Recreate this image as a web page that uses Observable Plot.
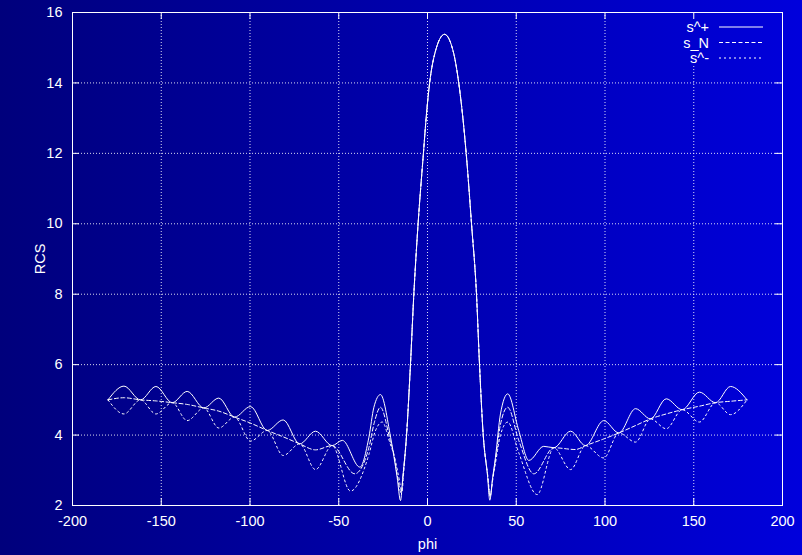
<!DOCTYPE html>
<html>
<head>
<meta charset="utf-8">
<script src="https://cdn.jsdelivr.net/npm/d3@7"></script>
<script src="https://cdn.jsdelivr.net/npm/@observablehq/plot@0.6"></script>
<style>
  html, body { margin: 0; padding: 0; background: #0000a8; }
  #chart svg { display: block; }
</style>
</head>
<body>
<div id="chart"></div>
<script>
// Axis ticks
const xTicks = [-200, -150, -100, -50, 0, 50, 100, 150, 200];
const yTicks = [2, 4, 6, 8, 10, 12, 14, 16];

// Key entries
const seriesNames = ["s^+", "s_N", "s^-"];

// Main lobe, shared by the three polarisations: [phi, RCS]
const mainLobe = [
  [-11.8, 4.0], [-9.6, 6.0], [-7.7, 8.0], [-5.3, 10.0], [-2.3, 12.0], [-0.6, 13.1],
  [1.2, 14.0], [4.1, 14.83], [9.6, 15.38], [14.8, 14.83], [17.6, 14.0], [21.8, 12.0],
  [24.8, 10.0], [27.6, 8.0], [29.3, 6.0], [31.4, 4.0]
];

// s^+ : [phi, RCS]
const sPlusLeft = [
  [-180, 5.00], [-171, 5.39], [-161.7, 5.00], [-153, 5.38], [-143.8, 4.92], [-135.4, 5.24],
  [-126, 4.77], [-117.6, 5.05], [-108.7, 4.51], [-99.7, 4.81], [-90.3, 4.13], [-81.3, 4.43],
  [-72, 3.75], [-63.1, 4.11], [-53.7, 3.70], [-48, 3.85], [-38.1, 3.09], [-33, 3.94],
  [-30.2, 4.79], [-26.5, 5.15], [-20.8, 3.94], [-17.1, 2.80], [-15.2, 2.14], [-14.0, 2.75]
];
const sPlusRight = [
  [33.8, 2.85], [35.1, 2.15], [36.6, 2.75], [38.3, 3.37], [41.1, 4.60], [45.2, 5.17],
  [51.4, 4.13], [57.1, 3.28], [65.5, 3.68], [71.2, 3.64], [80.6, 4.11], [89, 3.70],
  [99.3, 4.41], [107.8, 4.06], [117.2, 4.75], [125.6, 4.46], [134.5, 5.03], [143.5, 4.72],
  [153.2, 5.22], [162.3, 4.92], [170.7, 5.38], [180, 5.00]
];

// s_N : [phi, RCS]
const sNLeft = [
  [-180, 5.00], [-171, 5.06], [-161.7, 5.00], [-153, 4.97], [-143.8, 4.92], [-135.4, 4.87],
  [-126, 4.77], [-117.6, 4.68], [-108.7, 4.51], [-99.7, 4.34], [-90.3, 4.13], [-81.3, 3.95],
  [-72, 3.75], [-63.1, 3.58], [-53.7, 3.70], [-41, 2.90], [-33, 3.65], [-30, 4.35],
  [-26.5, 4.79], [-21, 3.85], [-19, 3.47], [-17, 2.85], [-14.8, 2.35], [-13.6, 2.95]
];
const sNRight = [
  [33.8, 2.90], [35.3, 2.25], [36.7, 2.75], [38.3, 3.30], [41.1, 4.30], [45.2, 4.79],
  [51.4, 3.85], [59.9, 2.90], [71.2, 3.64], [83.4, 3.59], [89, 3.70], [99.3, 3.89],
  [107.8, 4.06], [117.2, 4.27], [125.6, 4.46], [134.5, 4.60], [143.5, 4.72], [153.2, 4.82],
  [162.3, 4.92], [170.7, 4.96], [180, 5.00]
];

// s^- : [phi, RCS]
const sMinusLeft = [
  [-180, 5.00], [-171, 4.60], [-161.7, 5.00], [-153, 4.60], [-143.8, 4.92], [-135.4, 4.41],
  [-126, 4.77], [-117.6, 4.20], [-108.7, 4.51], [-99.7, 3.83], [-90.3, 4.13], [-81.3, 3.42],
  [-72, 3.75], [-63.1, 3.02], [-53.7, 3.70], [-43.4, 2.41], [-33, 3.45], [-29.5, 4.10],
  [-25.5, 4.37], [-21, 3.75], [-19, 3.45], [-16.5, 2.90], [-14.4, 2.40], [-13.4, 2.95]
];
const sMinusRight = [
  [33.8, 2.90], [35.4, 2.30], [36.8, 2.75], [38.3, 3.20], [41.1, 4.00], [45.2, 4.37],
  [51.4, 3.50], [61.8, 2.31], [71.2, 3.64], [80.6, 3.02], [89, 3.70], [99.3, 3.35],
  [107.8, 4.06], [117.2, 3.80], [125.6, 4.46], [134.5, 4.18], [143.5, 4.72], [153.2, 4.37],
  [162.3, 4.92], [170.7, 4.58], [180, 5.00]
];

const sPlus = [...sPlusLeft, ...mainLobe, ...sPlusRight];
const sN = [...sNLeft, ...mainLobe, ...sNRight];
const sMinus = [...sMinusLeft, ...mainLobe, ...sMinusRight];

// Layout
const width = 802, height = 555;
const margin = {top: 12, right: 20, bottom: 50, left: 72};
const innerW = width - margin.left - margin.right;
const innerH = height - margin.top - margin.bottom;
const TICK = 7;
const FONT = "'Liberation Sans', Arial, Helvetica, sans-serif";
const FS = 14.5;
const KEY_GAP_Y = 14.5; // grid line at phi=150 stops under the key

const dashes = ["none", "4,2.5", "2,3"];
const series = [sPlus, sN, sMinus];

const lineMarks = series.map((data, i) =>
  Plot.line(data, {
    x: d => d[0], y: d => d[1], curve: "monotone-x",
    stroke: "white", strokeWidth: 1, strokeDasharray: dashes[i]
  })
);

const chart = Plot.plot({
  width, height,
  marginTop: margin.top, marginRight: margin.right,
  marginBottom: margin.bottom, marginLeft: margin.left,
  style: {
    background: "linear-gradient(to right, #00007c, #0000dc)",
    color: "white", fontFamily: FONT, fontSize: FS + "px"
  },
  x: {domain: [-200, 200]},
  y: {domain: [2, 16]},
  marks: [
    // dotted grid
    Plot.ruleY(yTicks.slice(1, -1), {stroke: "white", strokeOpacity: 0.85, strokeDasharray: "1,2"}),
    Plot.ruleX(xTicks.slice(1, -1), {
      x: d => d, y1: 2, y2: d => (d === 150 ? KEY_GAP_Y : 16),
      stroke: "white", strokeOpacity: 0.85, strokeDasharray: "1,2"
    }),
    ...lineMarks,
    Plot.frame({stroke: "white", strokeWidth: 1}),
    // inward ticks on all four sides
    Plot.tickX(xTicks, {x: d => d, stroke: "white", insetTop: innerH - TICK}),
    Plot.tickX(xTicks, {x: d => d, stroke: "white", insetBottom: innerH - TICK}),
    Plot.tickY(yTicks, {y: d => d, stroke: "white", insetRight: innerW - TICK}),
    Plot.tickY(yTicks, {y: d => d, stroke: "white", insetLeft: innerW - TICK}),
    Plot.axisX(xTicks, {tickSize: 0, tickPadding: 10, tickFormat: d => String(d), label: null, fontSize: FS, fill: "white"}),
    Plot.axisY(yTicks, {tickSize: 0, tickPadding: 10, tickFormat: d => String(d), label: null, fontSize: FS, fill: "white"}),
    Plot.text(["phi"], {text: d => d, frameAnchor: "bottom", dy: 43, lineAnchor: "bottom", textAnchor: "middle", fill: "white", fontSize: FS}),
    Plot.text(["RCS"], {text: d => d, frameAnchor: "left", dx: -32, rotate: -90, textAnchor: "middle", lineAnchor: "middle", fill: "white", fontSize: FS})
  ]
});

// Key in the top-right corner of the frame
const svg = d3.select(chart);
const keyTextX = width - margin.right - 73;
const keyLineX1 = width - margin.right - 63;
const keyLineX2 = width - margin.right - 19;
const key = svg.append("g").attr("font-family", FONT).attr("font-size", FS);
seriesNames.forEach((name, i) => {
  const baseline = margin.top + 20 + 15.5 * i;
  key.append("text")
    .attr("x", keyTextX).attr("y", baseline)
    .attr("text-anchor", "end").attr("fill", "white")
    .text(name);
  key.append("line")
    .attr("x1", keyLineX1).attr("x2", keyLineX2)
    .attr("y1", baseline - 5).attr("y2", baseline - 5)
    .attr("stroke", "white").attr("stroke-width", 1)
    .attr("stroke-dasharray", dashes[i]);
});

document.getElementById("chart").appendChild(chart);
</script>
</body>
</html>
